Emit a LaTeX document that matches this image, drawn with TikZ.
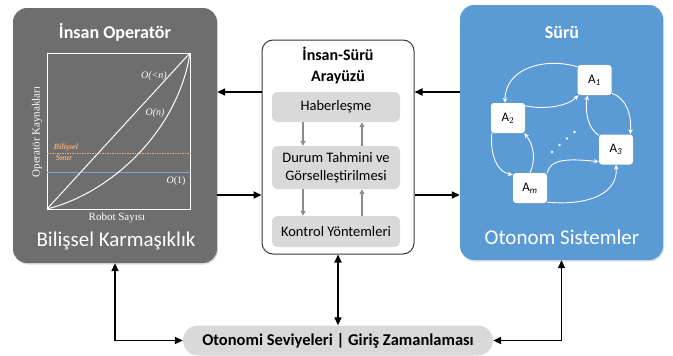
\documentclass[tikz,border=0pt]{standalone}
\usepackage{fontspec}
\setmainfont{Carlito}
\newfontfamily\plotfont{Liberation Serif}
\usetikzlibrary{arrows.meta,shadows,calc}

\definecolor{panelgray}{HTML}{6E6E6E}
\definecolor{swarmblue}{HTML}{5B9BD5}
\definecolor{softgray}{HTML}{D9D9D9}
\definecolor{limitorange}{HTML}{EFAE78}
\definecolor{linkgray}{HTML}{8C8C8C}
\definecolor{frame}{HTML}{3A3A3A}

\begin{document}
\begin{tikzpicture}[x=1pt,y=-1pt,
  panel/.style={rectangle, rounded corners=14pt, inner sep=0pt,
    drop shadow={shadow xshift=1pt, shadow yshift=-1.5pt, opacity=0.25}},
  paneltitle/.style={white, font=\bfseries\fontsize{18}{20}\selectfont},
  panelfoot/.style={white, font=\fontsize{21}{23}\selectfont},
  stage/.style={rectangle, rounded corners=5pt, fill=softgray, inner sep=0pt,
    minimum width=128pt, align=center, font=\fontsize{14.5}{18}\selectfont},
  agent/.style={rectangle, rounded corners=3pt, fill=white, inner sep=0pt,
    minimum width=34pt, minimum height=30pt, font=\fontsize{13}{15}\selectfont,
    drop shadow={shadow xshift=0.8pt, shadow yshift=-0.8pt, opacity=0.3}},
  bigarrow/.style={line width=1.8pt, -{Triangle[length=8pt,width=7pt]}},
  bigboth/.style={line width=1.8pt, {Triangle[length=8pt,width=7pt]}-{Triangle[length=8pt,width=7pt]}},
  flowarrow/.style={linkgray, line width=1.3pt, -{Triangle[length=5pt,width=5pt]}},
  swarmlink/.style={white, line width=0.9pt, -{Stealth[length=5pt,width=4.5pt]}},
  plotlabel/.style={white, font=\plotfont\fontsize{11}{13}\selectfont},
  curvelabel/.style={white, font=\plotfont\itshape\fontsize{10}{12}\selectfont},
  limitlabel/.style={limitorange, font=\plotfont\bfseries\itshape\fontsize{8}{9}\selectfont}
]
\useasboundingbox (0,0) rectangle (673,356);

% ---------- left panel: human operator ----------
\node[panel, fill=panelgray, minimum width=204pt, minimum height=255pt] (human) at (115,135.5) {};
\node[paneltitle] (humantitle) at (115,32) {İnsan Operatör};
\node[panelfoot] (humanfoot) at (116,241) {Bilişsel Karmaşıklık};

% workload plot
\coordinate (plo) at (47,209);
\coordinate (phi) at (190,53);
\draw[white, line width=0.9pt] (47,53) rectangle (190,209);
\draw[limitorange, line width=1pt, dash pattern=on 1.5pt off 1pt] (47,153) -- (190,153);
\draw[swarmblue!85!white, line width=0.8pt] (47,172) -- (190,172);
\draw[white, line width=1pt] (plo) -- (phi);
\draw[white, line width=1pt] (plo) .. controls (111,193) and (178,131) .. (phi);
\node[curvelabel] (lsub) at (154,76) {O(<n)};
\node[curvelabel] (llin) at (155,113) {O(n)};
\node[white, font=\plotfont\fontsize{10}{12}\selectfont] (lconst) at (176,181) {\textit{O}(1)};
\node[limitlabel] (llim1) at (66,147.5) {Bilişsel};
\node[limitlabel] (llim2) at (64,158) {Sınır};
\node[plotlabel, rotate=90] (yaxis) at (37,132) {Operatör Kaynakları};
\node[plotlabel] (xaxis) at (117,218) {Robot Sayısı};

% ---------- middle panel: interface ----------
\node[rectangle, rounded corners=11pt, draw=frame, line width=1pt, fill=white,
      minimum width=152pt, minimum height=214pt] (iface) at (338,147) {};
\node[align=center, font=\bfseries\fontsize{16}{21}\selectfont] (ifacetitle) at (338,66) {İnsan-Sürü\\Arayüzü};
\node[stage, minimum height=30pt] (hab) at (336,107) {Haberleşme};
\node[stage, minimum height=43pt] (durum) at (336,167.5) {Durum Tahmini ve\\Görselleştirilmesi};
\node[stage, minimum height=31pt] (kontrol) at (336,231.5) {Kontrol Yöntemleri};
\draw[flowarrow] ([xshift=-33pt]hab.south) -- ([xshift=-33pt]durum.north);
\draw[flowarrow] ([xshift=26pt]durum.north) -- ([xshift=26pt]hab.south);
\draw[flowarrow] ([xshift=-33pt]durum.south) -- ([xshift=-33pt]kontrol.north);
\draw[flowarrow] ([xshift=26pt]kontrol.north) -- ([xshift=26pt]durum.south);

% ---------- right panel: swarm ----------
\node[panel, fill=swarmblue, minimum width=203pt, minimum height=255pt] (swarm) at (561.5,132.5) {};
\node[paneltitle] (swarmtitle) at (562,32) {Sürü};
\node[panelfoot] (swarmfoot) at (562,237) {Otonom Sistemler};

\node[agent] (A1) at (594.5,80) {A$_{\mathit{1}}$};
\node[agent] (A2) at (508,118) {A$_{2}$};
\node[agent] (A3) at (616,149.5) {A$_{\mathit{3}}$};
\node[agent] (Am) at (530,188) {A$_{\mathit{m}}$};

\draw[swarmlink] ([yshift=-2pt]A1.north west) .. controls (545,57) and (505,68) .. ([xshift=-3pt]A2.north);
\draw[swarmlink] ([yshift=-3pt]A2.north east) .. controls (545,110) and (568,106) .. ([xshift=1pt]A1.south west);
\draw[swarmlink] ([yshift=2pt]A1.south east) .. controls (626,98) and (632,115) .. ([xshift=-3pt]A3.north east);
\draw[swarmlink] ([yshift=-1pt]A3.north west) .. controls (587,128) and (585,110) .. ([xshift=-7pt]A1.south);
\draw[swarmlink] ([xshift=1pt]A2.south west) .. controls (490,155) and (497,172) .. ([yshift=-2pt]Am.north west);
\draw[swarmlink] (Am.north) .. controls (536,160) and (534,145) .. ([xshift=-1pt]A2.south east);
\draw[swarmlink] (Am.north east) .. controls (550,160) and (565,158) .. ([yshift=3pt]A3.south west);
\draw[swarmlink] ([yshift=1pt]Am.south east) .. controls (592,206) and (618,192) .. (A3.south);
\foreach \i/\px/\py in {1/552/152, 2/559.5/145, 3/567/138.5, 4/574.5/132}
  \fill[white] (\px,\py) circle (1.3pt);

% ---------- bottom bar ----------
\node[rectangle, rounded corners=15pt, fill=softgray, minimum width=310pt, minimum height=30pt,
      font=\bfseries\fontsize{16.5}{18}\selectfont] (levels) at (338,340.5)
      {Otonomi Seviyeleri | Giriş Zamanlaması};

% ---------- connectors ----------
\coordinate (rowA) at (0,92);
\coordinate (rowB) at (0,195);
\draw[bigarrow] (iface.west |- rowA) -- (human.east |- rowA);
\draw[bigarrow] (swarm.west |- rowA) -- (iface.east |- rowA);
\draw[bigarrow] (human.east |- rowB) -- (iface.west |- rowB);
\draw[bigarrow] (iface.east |- rowB) -- (swarm.west |- rowB);
\draw[bigboth] (human.south) |- (levels.west);
\draw[bigboth] (swarm.south) |- (levels.east);
\draw[bigboth] (iface.south) -- (levels.north);
\end{tikzpicture}
\end{document}
